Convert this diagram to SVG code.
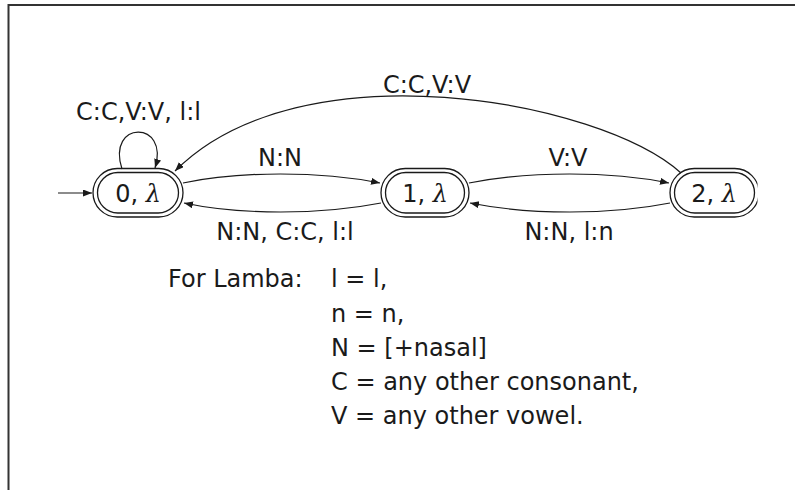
<svg xmlns="http://www.w3.org/2000/svg" width="795" height="490" viewBox="0 0 795 490">
<style>
text{font-family:"DejaVu Sans","Liberation Sans",sans-serif;font-size:24px;fill:#1a1a1a}
.m{text-anchor:middle}
.lam{font-family:"DejaVu Serif","Liberation Serif",serif;font-style:italic}
.edge{fill:none;stroke:#1a1a1a;stroke-width:1.2;marker-end:url(#ah)}
.node rect{fill:none;stroke:#1a1a1a;stroke-width:1.3}
</style>
<defs>
<marker id="ah" markerUnits="userSpaceOnUse" markerWidth="10" markerHeight="8" refX="9" refY="3.5" orient="auto">
<path d="M0,0 L9,3.5 L0,7 z" fill="#1a1a1a"/>
</marker>
<clipPath id="clip2"><rect x="600" y="100" width="157.5" height="150"/></clipPath>
</defs>
<rect x="0" y="0" width="795" height="490" fill="#fff"/>
<path d="M8.5,490 V5 H795" fill="none" stroke="#333" stroke-width="2"/>
<g id="connectors">
<path class="edge" d="M58,193 H92"/>
<path class="edge" d="M122,169 C106,120 170,120 155,168"/>
<path class="edge" d="M183,183 C240,171 320,171 380,183"/>
<path class="edge" d="M381,203 C320,215 240,215 184,203"/>
<path class="edge" d="M469,183 C530,171 610,171 669,183"/>
<path class="edge" d="M670,203 C610,215 530,215 470,203"/>
<path class="edge" d="M681,173 C600,100 300,45 175,171"/>
<text class="m" x="138.5" y="120">C:C,V:V, l:l</text>
<text class="m" x="427" y="93">C:C,V:V</text>
<text class="m" x="280" y="166">N:N</text>
<text class="m" x="568" y="166">V:V</text>
<text class="m" x="285" y="240">N:N, C:C, l:l</text>
<text class="m" x="569" y="240">N:N, l:n</text>
</g>
<g id="node0" class="node">
<rect x="93" y="168.5" width="90" height="48.5" rx="24.25"/>
<rect x="97.5" y="172.5" width="81" height="40.5" rx="20.25"/>
<text class="m" x="138" y="202">0, <tspan class="lam">λ</tspan></text>
</g>
<g id="node1" class="node">
<rect x="381" y="168.5" width="88" height="48.5" rx="24.25"/>
<rect x="385.5" y="172.5" width="79" height="40.5" rx="20.25"/>
<text class="m" x="425" y="202">1, <tspan class="lam">λ</tspan></text>
</g>
<g id="node2" class="node" clip-path="url(#clip2)">
<rect x="670" y="168.5" width="89" height="48.5" rx="24.25"/>
<rect x="674.5" y="172.5" width="80" height="40.5" rx="20.25"/>
<text class="m" x="714" y="202">2, <tspan class="lam">λ</tspan></text>
</g>
<g id="legend">
<text x="168" y="287">For Lamba:</text>
<text x="331" y="287">l = l,</text>
<text x="331" y="322">n = n,</text>
<text x="331" y="356">N = [+nasal]</text>
<text x="331" y="390">C = any other consonant,</text>
<text x="331" y="424">V = any other vowel.</text>
</g>
</svg>
